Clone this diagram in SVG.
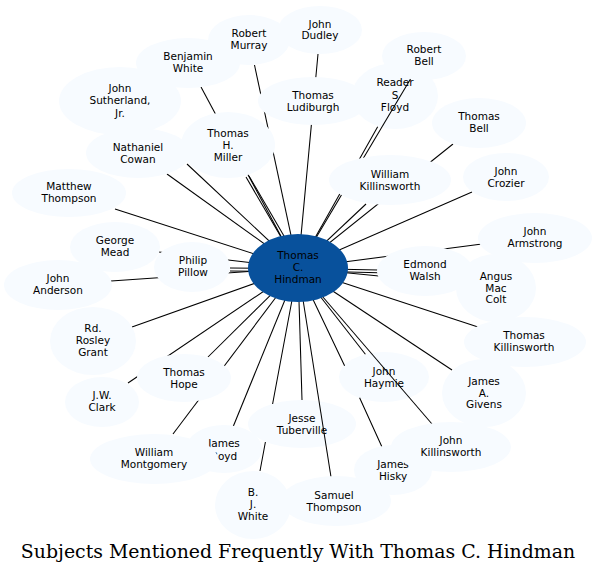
<svg xmlns="http://www.w3.org/2000/svg" width="597" height="574" viewBox="0 0 597 574">
<style>
.n ellipse{fill:#f7fbff;stroke:none}
.hub ellipse{fill:#08519c;stroke:none}
text{font-family:"DejaVu Sans","Liberation Sans",sans-serif;font-size:10.5px;fill:#000;text-anchor:middle}
.title{font-family:"DejaVu Serif","Liberation Serif",serif;font-size:18.9px}
#edges path{fill:none;stroke:#000;stroke-width:1.05}
</style>
<rect width="597" height="574" fill="#fff"/>
<g id="node-floyd" class="n"><ellipse cx="395" cy="96" rx="43" ry="33"/><text x="395"><tspan x="395" y="86">Reader</tspan><tspan x="395" y="98.5">S</tspan><tspan x="395" y="111">Floyd</tspan></text></g>
<g id="node-haymie" class="n"><ellipse cx="384" cy="377" rx="45" ry="25"/><text><tspan x="384" y="375">John</tspan><tspan x="384" y="387">Haymie</tspan></text></g>
<g id="node-tuberville" class="n"><ellipse cx="302" cy="424" rx="54" ry="24"/><text><tspan x="302" y="422">Jesse</tspan><tspan x="302" y="434">Tuberville</tspan></text></g>
<g id="edges">
<path d="M298,268 L254.5,65"/>
<path d="M298,268 L318,54"/>
<path d="M298,268 L201,87"/>
<path d="M298,268 L187,164"/>
<path d="M298,268 L167,174"/>
<path d="M289.75,252 L246,177"/>
<path d="M293.3,252 L249,176"/>
<path d="M298,268 L115,209"/>
<path d="M298,268 L159,252"/>
<path d="M270,268.3 L230,268"/>
<path d="M270,271.3 L230,271"/>
<path d="M298,268 L111,281"/>
<path d="M298,268 L132,327"/>
<path d="M298,268 L208,357"/>
<path d="M298,268 L128,383"/>
<path d="M298,268 L173,434"/>
<path d="M298,268 L233,427"/>
<path d="M298,268 L272.6,404 M265.4,442 L260,471"/>
<path d="M298,268 L302,400"/>
<path d="M298,268 L331,477"/>
<path d="M298,268 L344.6,365.7 M359.6,397.7 L382,447"/>
<path d="M298,268 L365.4,354.2"/>
<path d="M298,268 L432,424"/>
<path d="M298,268 L452,370"/>
<path d="M298,268 L478,327"/>
<path d="M298,268 L470,285"/>
<path d="M330,269 L378,270"/>
<path d="M330,271.6 L378,272.8"/>
<path d="M298,268 L482,244"/>
<path d="M298,268 L472,192"/>
<path d="M298,268 L453,144"/>
<path d="M298,268 L366,204"/>
<path d="M298,268 L377.7,126.7"/>
<path d="M298,268 L410.5,79"/>
</g>
<g id="node-murray" class="n"><ellipse cx="249" cy="40" rx="41" ry="25"/><text><tspan x="249" y="37">Robert</tspan><tspan x="249" y="49">Murray</tspan></text></g>
<g id="node-dudley" class="n"><ellipse cx="320" cy="30" rx="42" ry="24"/><text><tspan x="320" y="27.5">John</tspan><tspan x="320" y="39">Dudley</tspan></text></g>
<g id="node-benjamin" class="n"><ellipse cx="188" cy="63" rx="52" ry="25"/><text><tspan x="188" y="60">Benjamin</tspan><tspan x="188" y="72">White</tspan></text></g>
<g id="node-sutherland" class="n"><ellipse cx="120" cy="101" rx="61" ry="34"/><text><tspan x="120" y="92">John</tspan><tspan x="120" y="104">Sutherland,</tspan><tspan x="120" y="116.5">Jr.</tspan></text></g>
<g id="node-ludiburgh" class="n"><ellipse cx="313" cy="101" rx="55" ry="24"/><text><tspan x="313" y="99">Thomas</tspan><tspan x="313" y="111">Ludiburgh</tspan></text></g>
<g id="node-rbell" class="n"><ellipse cx="424" cy="56" rx="42" ry="24"/><text><tspan x="424" y="53">Robert</tspan><tspan x="424" y="65">Bell</tspan></text></g>
<g id="node-tbell" class="n"><ellipse cx="479" cy="123" rx="47" ry="25"/><text><tspan x="479" y="120">Thomas</tspan><tspan x="479" y="132">Bell</tspan></text></g>
<g id="node-wkillinsworth" class="n"><ellipse cx="390" cy="180" rx="61" ry="25"/><text><tspan x="390" y="178">William</tspan><tspan x="390" y="190">Killinsworth</tspan></text></g>
<g id="node-crozier" class="n"><ellipse cx="506" cy="177" rx="43" ry="24"/><text><tspan x="506" y="175">John</tspan><tspan x="506" y="187">Crozier</tspan></text></g>
<g id="node-miller" class="n"><ellipse cx="228" cy="145" rx="47" ry="33"/><text><tspan x="228" y="137">Thomas</tspan><tspan x="228" y="149">H.</tspan><tspan x="228" y="161">Miller</tspan></text></g>
<g id="node-cowan" class="n"><ellipse cx="138" cy="153" rx="52" ry="25"/><text><tspan x="138" y="151">Nathaniel</tspan><tspan x="138" y="162.5">Cowan</tspan></text></g>
<g id="node-mthompson" class="n"><ellipse cx="69" cy="193" rx="57" ry="24"/><text><tspan x="69" y="190">Matthew</tspan><tspan x="69" y="202">Thompson</tspan></text></g>
<g id="node-mead" class="n"><ellipse cx="115" cy="247" rx="45" ry="25"/><text><tspan x="115" y="244">George</tspan><tspan x="115" y="256">Mead</tspan></text></g>
<g id="node-pillow" class="n"><ellipse cx="192" cy="267" rx="38" ry="25"/><text><tspan x="193" y="264">Philip</tspan><tspan x="193" y="276">Pillow</tspan></text></g>
<g id="node-anderson" class="n"><ellipse cx="58" cy="285" rx="54" ry="25"/><text><tspan x="58" y="282">John</tspan><tspan x="58" y="294">Anderson</tspan></text></g>
<g id="node-grant" class="n"><ellipse cx="93" cy="341" rx="43" ry="34"/><text><tspan x="93" y="332">Rd.</tspan><tspan x="93" y="344">Rosley</tspan><tspan x="93" y="356">Grant</tspan></text></g>
<g id="node-hope" class="n"><ellipse cx="184" cy="378" rx="47" ry="24"/><text><tspan x="184" y="376">Thomas</tspan><tspan x="184" y="388">Hope</tspan></text></g>
<g id="node-clark" class="n"><ellipse cx="102" cy="402" rx="37" ry="25"/><text><tspan x="102" y="399">J.W.</tspan><tspan x="102" y="411">Clark</tspan></text></g>
<g id="node-boyd" class="n"><ellipse cx="224" cy="449" rx="38" ry="24"/><text><tspan x="224" y="447">James</tspan><tspan x="224" y="460">Boyd</tspan></text></g>
<g id="node-montgomery" class="n"><ellipse cx="154" cy="459" rx="64" ry="25"/><text><tspan x="154" y="456">William</tspan><tspan x="154" y="468">Montgomery</tspan></text></g>
<g id="node-bjwhite" class="n"><ellipse cx="253" cy="505" rx="38" ry="34"/><text><tspan x="253" y="496">B.</tspan><tspan x="253" y="508">J.</tspan><tspan x="253" y="520">White</tspan></text></g>
<g id="node-sthompson" class="n"><ellipse cx="336" cy="501" rx="55" ry="25"/><text><tspan x="334" y="499">Samuel</tspan><tspan x="334" y="511">Thompson</tspan></text></g>
<g id="node-hisky" class="n"><ellipse cx="393" cy="470" rx="39" ry="25"/><text><tspan x="393" y="468">James</tspan><tspan x="393" y="479.5">Hisky</tspan></text></g>
<g id="node-jkillinsworth" class="n"><ellipse cx="451" cy="447" rx="60" ry="25"/><text><tspan x="451" y="444">John</tspan><tspan x="451" y="456">Killinsworth</tspan></text></g>
<g id="node-givens" class="n"><ellipse cx="484" cy="393" rx="42" ry="34"/><text><tspan x="484" y="385">James</tspan><tspan x="484" y="397">A.</tspan><tspan x="484" y="408">Givens</tspan></text></g>
<g id="node-tkillinsworth" class="n"><ellipse cx="525" cy="342" rx="61" ry="25"/><text><tspan x="524" y="339">Thomas</tspan><tspan x="524" y="351">Killinsworth</tspan></text></g>
<g id="node-angus" class="n"><ellipse cx="496" cy="288" rx="40" ry="34"/><text><tspan x="496" y="280">Angus</tspan><tspan x="496" y="291.5">Mac</tspan><tspan x="496" y="303">Colt</tspan></text></g>
<g id="node-walsh" class="n"><ellipse cx="425" cy="271" rx="48" ry="25"/><text><tspan x="425" y="268">Edmond</tspan><tspan x="425" y="280">Walsh</tspan></text></g>
<g id="node-armstrong" class="n"><ellipse cx="535" cy="238" rx="57" ry="25"/><text><tspan x="535" y="235">John</tspan><tspan x="535" y="247">Armstrong</tspan></text></g>
<g id="node-hindman" class="hub"><ellipse cx="298" cy="268" rx="50" ry="34"/><text><tspan x="298" y="259">Thomas</tspan><tspan x="298" y="271">C.</tspan><tspan x="298" y="283">Hindman</tspan></text></g>
<text class="title" x="298" y="558">Subjects Mentioned Frequently With Thomas C. Hindman</text>
</svg>
